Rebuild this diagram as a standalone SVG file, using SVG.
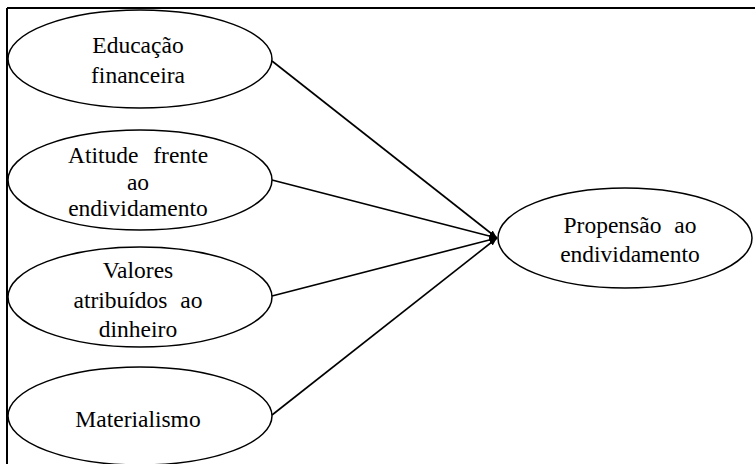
<svg xmlns="http://www.w3.org/2000/svg" width="755" height="464" viewBox="0 0 755 464">
<style>
.n ellipse{fill:#fff;stroke:#000;stroke-width:1.5}
.t{font-family:'Liberation Serif','Times New Roman','DejaVu Serif',serif;font-size:23.5px;fill:#000;text-anchor:middle}
.c line{stroke:#000;stroke-width:1.6}
</style>
<defs>
<marker id="ah" viewBox="0 0 10 10" refX="10" refY="5" markerWidth="8" markerHeight="8" markerUnits="userSpaceOnUse" orient="auto">
<path d="M0,1 L10,5 L0,9 Z" fill="#000"/>
</marker>
</defs>
<rect width="755" height="464" fill="#fff"/>
<g id="frame"><line x1="7" y1="8" x2="755" y2="8" stroke="#000" stroke-width="2"/><line x1="7" y1="8" x2="7" y2="464" stroke="#000" stroke-width="2"/></g>
<g class="c" id="connectors">
<line x1="272" y1="61" x2="497" y2="238" marker-end="url(#ah)"/>
<line x1="272" y1="180" x2="497" y2="238" marker-end="url(#ah)"/>
<line x1="272" y1="296" x2="497" y2="238" marker-end="url(#ah)"/>
<line x1="272" y1="415" x2="497" y2="238" marker-end="url(#ah)"/>
</g>
<g class="n" id="n1"><ellipse cx="140" cy="59" rx="132" ry="49"/><text class="t" x="138" y="53">Educação</text><text class="t" x="138" y="83">financeira</text></g>
<g class="n" id="n2"><ellipse cx="140" cy="180" rx="132" ry="50"/><text class="t" x="138" y="163" word-spacing="9">Atitude frente</text><text class="t" x="138" y="190">ao</text><text class="t" x="138" y="216">endividamento</text></g>
<g class="n" id="n3"><ellipse cx="140" cy="297" rx="132" ry="50"/><text class="t" x="138" y="278">Valores</text><text class="t" x="138" y="308" word-spacing="7">atribuídos ao</text><text class="t" x="138" y="337">dinheiro</text></g>
<g class="n" id="n4"><ellipse cx="140" cy="416" rx="132" ry="49"/><text class="t" x="138" y="427">Materialismo</text></g>
<g class="n" id="n5"><ellipse cx="625" cy="238" rx="127" ry="50"/><text class="t" x="630" y="233" word-spacing="7">Propensão ao</text><text class="t" x="630" y="262">endividamento</text></g>
</svg>
